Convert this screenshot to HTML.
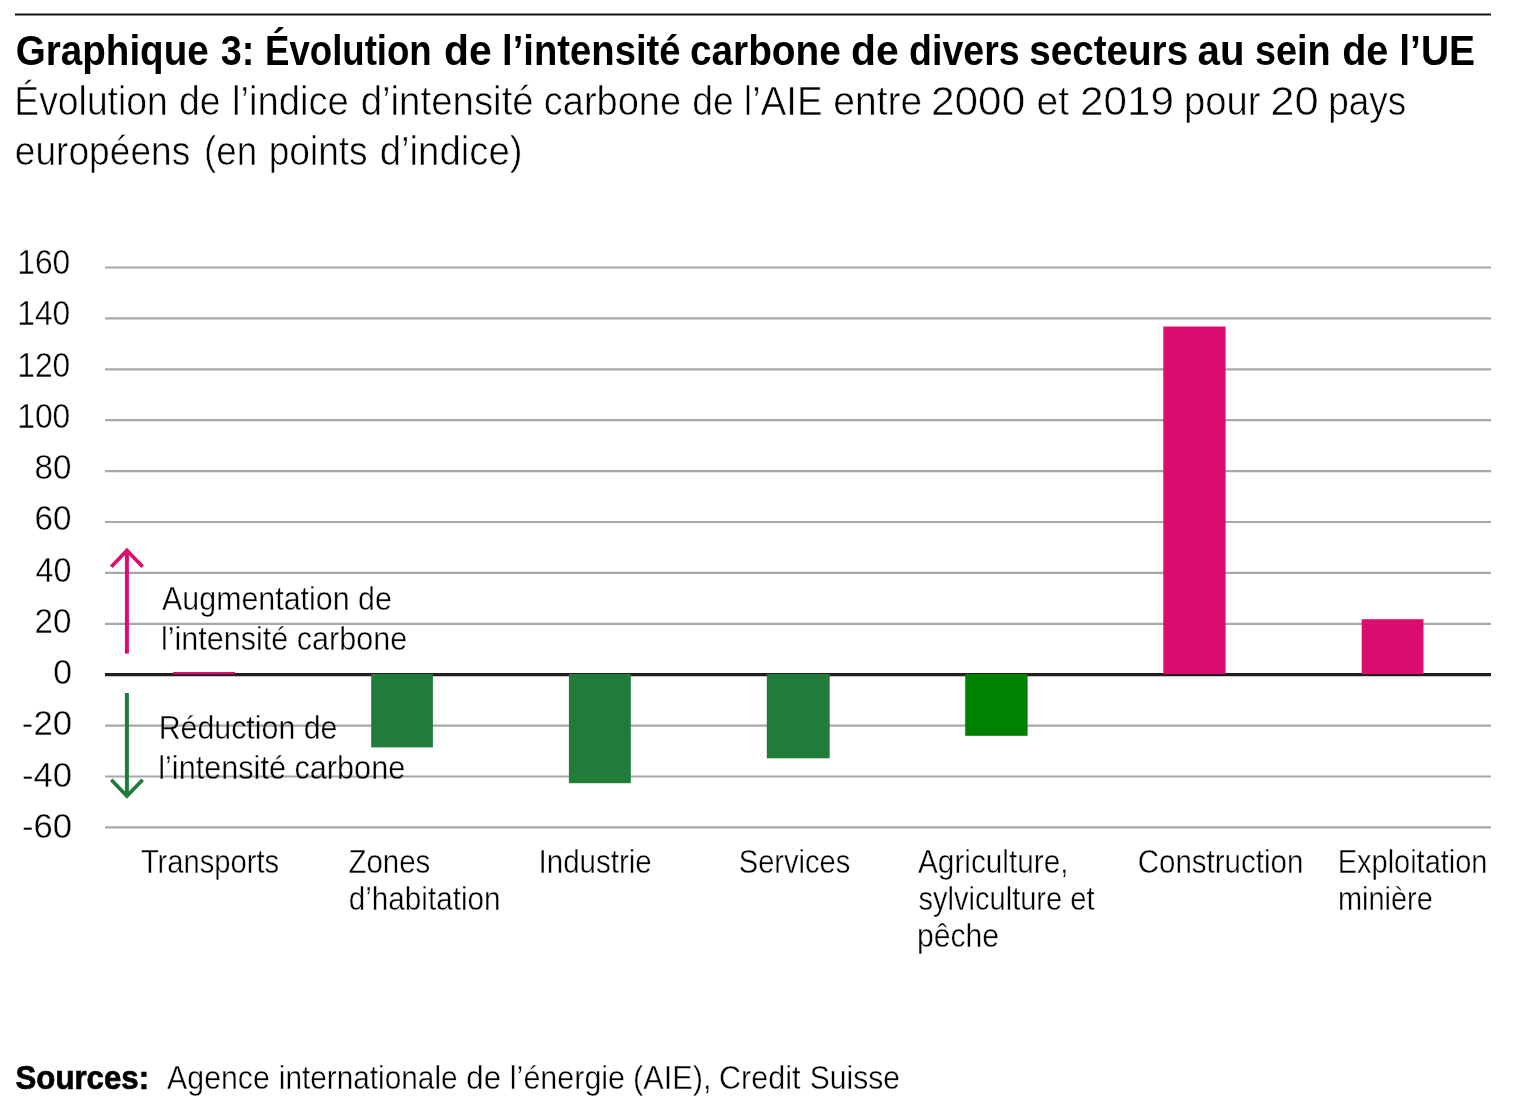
<!DOCTYPE html>
<html lang="fr"><head><meta charset="utf-8"><title>Graphique 3</title>
<style>
html,body{margin:0;padding:0;background:#fff;}
body{width:1535px;height:1119px;overflow:hidden;font-family:"Liberation Sans", sans-serif;}
svg{display:block;position:absolute;left:0;top:0;}
svg text{font-family:"Liberation Sans", sans-serif;fill:#000;}
</style></head>
<body>
<svg width="1535" height="1119" viewBox="0 0 1535 1119">
<rect x="0" y="0" width="1535" height="1119" fill="#ffffff"/>
<!-- text -->
<g style="filter:grayscale(1)">
<text x="15.78" y="64.80" font-size="42" font-weight="700" textLength="192.97" lengthAdjust="spacingAndGlyphs">Graphique</text>
<text x="220.80" y="64.80" font-size="42" font-weight="700" textLength="33.58" lengthAdjust="spacingAndGlyphs">3:</text>
<text x="265.06" y="64.80" font-size="42" font-weight="700" textLength="166.68" lengthAdjust="spacingAndGlyphs">Évolution</text>
<text x="444.03" y="64.80" font-size="42" font-weight="700" textLength="47.69" lengthAdjust="spacingAndGlyphs">de</text>
<text x="502.08" y="64.80" font-size="42" font-weight="700" textLength="178.46" lengthAdjust="spacingAndGlyphs">l’intensité</text>
<text x="689.88" y="64.80" font-size="42" font-weight="700" textLength="150.98" lengthAdjust="spacingAndGlyphs">carbone</text>
<text x="851.03" y="64.80" font-size="42" font-weight="700" textLength="47.69" lengthAdjust="spacingAndGlyphs">de</text>
<text x="909.11" y="64.80" font-size="42" font-weight="700" textLength="110.51" lengthAdjust="spacingAndGlyphs">divers</text>
<text x="1029.18" y="64.80" font-size="42" font-weight="700" textLength="158.97" lengthAdjust="spacingAndGlyphs">secteurs</text>
<text x="1197.54" y="64.80" font-size="42" font-weight="700" textLength="46.90" lengthAdjust="spacingAndGlyphs">au</text>
<text x="1255.00" y="64.80" font-size="42" font-weight="700" textLength="75.69" lengthAdjust="spacingAndGlyphs">sein</text>
<text x="1342.16" y="64.80" font-size="42" font-weight="700" textLength="46.12" lengthAdjust="spacingAndGlyphs">de</text>
<text x="1399.24" y="64.80" font-size="42" font-weight="700" textLength="75.80" lengthAdjust="spacingAndGlyphs">l’UE</text>
<text x="14.37" y="114.90" font-size="41" stroke="#fff" stroke-width="0.6" textLength="153.37" lengthAdjust="spacingAndGlyphs">Évolution</text>
<text x="178.89" y="114.90" font-size="41" stroke="#fff" stroke-width="0.6" textLength="41.55" lengthAdjust="spacingAndGlyphs">de</text>
<text x="232.04" y="114.90" font-size="41" stroke="#fff" stroke-width="0.6" textLength="116.84" lengthAdjust="spacingAndGlyphs">l’indice</text>
<text x="360.66" y="114.90" font-size="41" stroke="#fff" stroke-width="0.6" textLength="173.03" lengthAdjust="spacingAndGlyphs">d’intensité</text>
<text x="543.77" y="114.90" font-size="41" stroke="#fff" stroke-width="0.6" textLength="137.30" lengthAdjust="spacingAndGlyphs">carbone</text>
<text x="692.29" y="114.90" font-size="41" stroke="#fff" stroke-width="0.6" textLength="41.45" lengthAdjust="spacingAndGlyphs">de</text>
<text x="743.63" y="114.90" font-size="41" stroke="#fff" stroke-width="0.6" textLength="78.83" lengthAdjust="spacingAndGlyphs">l’AIE</text>
<text x="833.35" y="114.90" font-size="41" stroke="#fff" stroke-width="0.6" textLength="88.86" lengthAdjust="spacingAndGlyphs">entre</text>
<text x="931.03" y="114.90" font-size="41" stroke="#fff" stroke-width="0.6" textLength="94.19" lengthAdjust="spacingAndGlyphs">2000</text>
<text x="1036.54" y="114.90" font-size="41" stroke="#fff" stroke-width="0.6" textLength="32.67" lengthAdjust="spacingAndGlyphs">et</text>
<text x="1080.14" y="114.90" font-size="41" stroke="#fff" stroke-width="0.6" textLength="93.92" lengthAdjust="spacingAndGlyphs">2019</text>
<text x="1184.04" y="114.90" font-size="41" stroke="#fff" stroke-width="0.6" textLength="76.47" lengthAdjust="spacingAndGlyphs">pour</text>
<text x="1270.28" y="114.90" font-size="41" stroke="#fff" stroke-width="0.6" textLength="48.37" lengthAdjust="spacingAndGlyphs">20</text>
<text x="1328.20" y="114.90" font-size="41" stroke="#fff" stroke-width="0.6" textLength="77.95" lengthAdjust="spacingAndGlyphs">pays</text>
<text x="14.79" y="164.80" font-size="41" stroke="#fff" stroke-width="0.6" textLength="175.46" lengthAdjust="spacingAndGlyphs">européens</text>
<text x="204.01" y="164.80" font-size="41" stroke="#fff" stroke-width="0.6" textLength="53.11" lengthAdjust="spacingAndGlyphs">(en</text>
<text x="268.69" y="164.80" font-size="41" stroke="#fff" stroke-width="0.6" textLength="98.96" lengthAdjust="spacingAndGlyphs">points</text>
<text x="379.66" y="164.80" font-size="41" stroke="#fff" stroke-width="0.6" textLength="142.98" lengthAdjust="spacingAndGlyphs">d’indice)</text>
<text x="162.10" y="609.50" font-size="33" stroke="#fff" stroke-width="0.4" textLength="229.75" lengthAdjust="spacingAndGlyphs">Augmentation de</text>
<text x="160.95" y="649.70" font-size="33" stroke="#fff" stroke-width="0.4" textLength="246.30" lengthAdjust="spacingAndGlyphs">l’intensité carbone</text>
<text x="158.66" y="738.50" font-size="33" stroke="#fff" stroke-width="0.4" textLength="178.78" lengthAdjust="spacingAndGlyphs">Réduction de</text>
<text x="158.24" y="778.50" font-size="33" stroke="#fff" stroke-width="0.4" textLength="247.01" lengthAdjust="spacingAndGlyphs">l’intensité carbone</text>
<text x="140.90" y="872.80" font-size="33" stroke="#fff" stroke-width="0.4" textLength="138.24" lengthAdjust="spacingAndGlyphs">Transports</text>
<text x="348.41" y="872.80" font-size="33" stroke="#fff" stroke-width="0.4" textLength="81.94" lengthAdjust="spacingAndGlyphs">Zones</text>
<text x="348.70" y="909.70" font-size="33" stroke="#fff" stroke-width="0.4" textLength="151.82" lengthAdjust="spacingAndGlyphs">d’habitation</text>
<text x="538.51" y="872.80" font-size="33" stroke="#fff" stroke-width="0.4" textLength="113.30" lengthAdjust="spacingAndGlyphs">Industrie</text>
<text x="738.72" y="872.80" font-size="33" stroke="#fff" stroke-width="0.4" textLength="111.62" lengthAdjust="spacingAndGlyphs">Services</text>
<text x="918.00" y="872.80" font-size="33" stroke="#fff" stroke-width="0.4" textLength="150.45" lengthAdjust="spacingAndGlyphs">Agriculture,</text>
<text x="918.60" y="909.80" font-size="33" stroke="#fff" stroke-width="0.4" textLength="175.85" lengthAdjust="spacingAndGlyphs">sylviculture et</text>
<text x="916.97" y="947.00" font-size="33" stroke="#fff" stroke-width="0.4" textLength="82.16" lengthAdjust="spacingAndGlyphs">pêche</text>
<text x="1137.71" y="872.80" font-size="33" stroke="#fff" stroke-width="0.4" textLength="165.60" lengthAdjust="spacingAndGlyphs">Construction</text>
<text x="1337.74" y="872.80" font-size="33" stroke="#fff" stroke-width="0.4" textLength="149.74" lengthAdjust="spacingAndGlyphs">Exploitation</text>
<text x="1337.95" y="909.50" font-size="33" stroke="#fff" stroke-width="0.4" textLength="94.84" lengthAdjust="spacingAndGlyphs">minière</text>
<text x="15.55" y="1089.00" font-size="33" font-weight="700" stroke="#000" stroke-width="0.7" textLength="133.53" lengthAdjust="spacingAndGlyphs">Sources:</text>
<text x="167.10" y="1089.00" font-size="33" stroke="#fff" stroke-width="0.4" textLength="102.74" lengthAdjust="spacingAndGlyphs">Agence</text>
<text x="278.79" y="1089.00" font-size="33" stroke="#fff" stroke-width="0.4" textLength="178.83" lengthAdjust="spacingAndGlyphs">internationale</text>
<text x="466.35" y="1089.00" font-size="33" stroke="#fff" stroke-width="0.4" textLength="34.73" lengthAdjust="spacingAndGlyphs">de</text>
<text x="509.85" y="1089.00" font-size="33" stroke="#fff" stroke-width="0.4" textLength="115.20" lengthAdjust="spacingAndGlyphs">l’énergie</text>
<text x="632.93" y="1089.00" font-size="33" stroke="#fff" stroke-width="0.4" textLength="78.69" lengthAdjust="spacingAndGlyphs">(AIE),</text>
<text x="718.97" y="1089.00" font-size="33" stroke="#fff" stroke-width="0.4" textLength="81.48" lengthAdjust="spacingAndGlyphs">Credit</text>
<text x="809.69" y="1089.00" font-size="33" stroke="#fff" stroke-width="0.4" textLength="90.24" lengthAdjust="spacingAndGlyphs">Suisse</text>
<text x="17.28" y="274.00" font-size="35" stroke="#fff" stroke-width="0.4" textLength="53.04" lengthAdjust="spacingAndGlyphs">160</text>
<text x="17.28" y="325.25" font-size="35" stroke="#fff" stroke-width="0.4" textLength="53.04" lengthAdjust="spacingAndGlyphs">140</text>
<text x="17.28" y="376.50" font-size="35" stroke="#fff" stroke-width="0.4" textLength="53.04" lengthAdjust="spacingAndGlyphs">120</text>
<text x="17.28" y="427.75" font-size="35" stroke="#fff" stroke-width="0.4" textLength="53.04" lengthAdjust="spacingAndGlyphs">100</text>
<text x="34.55" y="479.00" font-size="35" stroke="#fff" stroke-width="0.4" textLength="36.99" lengthAdjust="spacingAndGlyphs">80</text>
<text x="34.55" y="530.25" font-size="35" stroke="#fff" stroke-width="0.4" textLength="36.99" lengthAdjust="spacingAndGlyphs">60</text>
<text x="35.50" y="581.50" font-size="35" stroke="#fff" stroke-width="0.4" textLength="36.03" lengthAdjust="spacingAndGlyphs">40</text>
<text x="34.55" y="632.75" font-size="35" stroke="#fff" stroke-width="0.4" textLength="36.99" lengthAdjust="spacingAndGlyphs">20</text>
<text x="53.33" y="684.00" font-size="35" stroke="#fff" stroke-width="0.4" textLength="18.82" lengthAdjust="spacingAndGlyphs">0</text>
<text x="21.80" y="735.25" font-size="35" stroke="#fff" stroke-width="0.4" textLength="50.36" lengthAdjust="spacingAndGlyphs">-20</text>
<text x="22.01" y="786.50" font-size="35" stroke="#fff" stroke-width="0.4" textLength="50.15" lengthAdjust="spacingAndGlyphs">-40</text>
<text x="22.01" y="837.75" font-size="35" stroke="#fff" stroke-width="0.4" textLength="50.15" lengthAdjust="spacingAndGlyphs">-60</text>
</g>
<!-- top rule -->
<line x1="15" x2="1491" y1="14.5" y2="14.5" stroke="#141414" stroke-width="2.2"/>
<!-- gridlines (multiplied so they appear behind the text) -->
<g stroke="#a8a8a8" stroke-width="2.2" fill="none" style="mix-blend-mode:multiply">
<line x1="105" x2="1491" y1="267.50" y2="267.50"/>
<line x1="105" x2="1491" y1="318.40" y2="318.40"/>
<line x1="105" x2="1491" y1="369.30" y2="369.30"/>
<line x1="105" x2="1491" y1="420.20" y2="420.20"/>
<line x1="105" x2="1491" y1="471.10" y2="471.10"/>
<line x1="105" x2="1491" y1="522.00" y2="522.00"/>
<line x1="105" x2="1491" y1="572.90" y2="572.90"/>
<line x1="105" x2="1491" y1="623.80" y2="623.80"/>
<line x1="105" x2="1491" y1="725.60" y2="725.60"/>
<line x1="105" x2="1491" y1="776.50" y2="776.50"/>
<line x1="105" x2="1491" y1="827.40" y2="827.40"/>
</g>
<!-- zero line -->
<line x1="105" x2="1491" y1="674.6" y2="674.6" stroke="#231f20" stroke-width="3.2"/>
<!-- bars -->
<rect x="173.1" y="672.0" width="61.9" height="2.2" fill="#db0d6e"/>
<rect x="371.2" y="674.0" width="61.7" height="73.4" fill="#207c38"/>
<rect x="568.9" y="674.0" width="61.9" height="109.2" fill="#207c38"/>
<rect x="766.8" y="674.0" width="62.9" height="84.3" fill="#207c38"/>
<rect x="965.2" y="674.0" width="62.4" height="61.8" fill="#008000"/>
<rect x="1163.3" y="326.5" width="62.3" height="347.5" fill="#db0d6e"/>
<rect x="1361.7" y="619.2" width="61.8" height="54.8" fill="#db0d6e"/>
<!-- arrows -->
<g fill="none" stroke="#db0d6e" stroke-width="4" stroke-linecap="butt" stroke-linejoin="miter">
<line x1="126.9" x2="126.9" y1="653.6" y2="550"/>
<polyline points="111.3,566.8 126.9,550.4 142.7,566.8" stroke-width="3.7"/>
</g>
<g fill="none" stroke="#207c38" stroke-width="4" stroke-linecap="butt" stroke-linejoin="miter">
<line x1="126.9" x2="126.9" y1="693" y2="796"/>
<polyline points="111.3,779.7 126.9,796.1 142.7,779.7" stroke-width="3.7"/>
</g>
</svg>
</body></html>
